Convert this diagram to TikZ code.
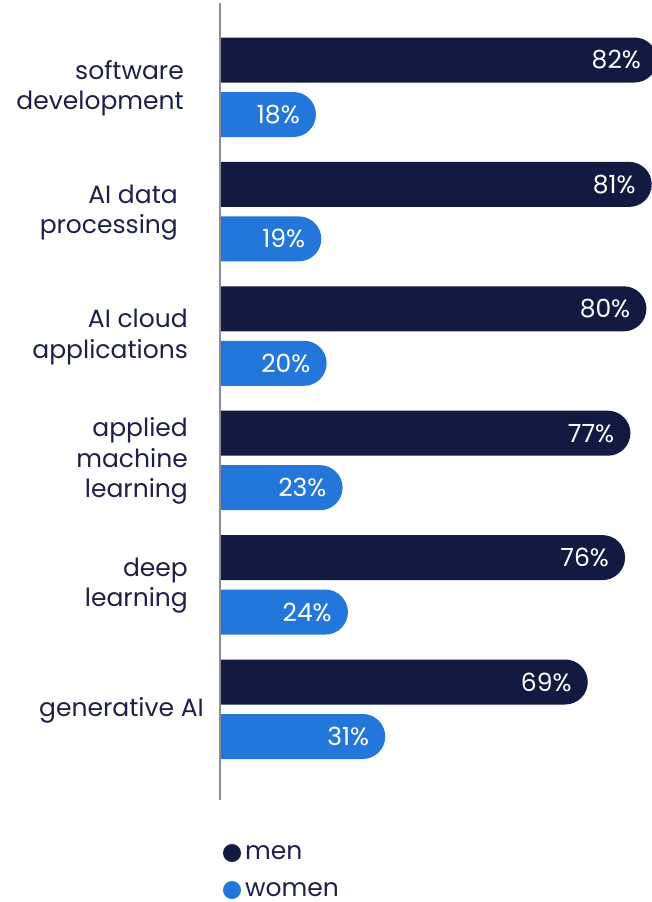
\documentclass[tikz,border=0pt]{standalone}
\usepackage{fontspec}
\setmainfont{Poppins}
\usetikzlibrary{shapes.misc}
\definecolor{mencolor}{HTML}{131A42}
\definecolor{womencolor}{HTML}{2477DA}
\definecolor{axiscolor}{HTML}{8C8D98}
\definecolor{labelcolor}{HTML}{1C2147}
\begin{document}
\begin{tikzpicture}
[x=1pt, y=-1pt,
  bardecorate/.style={shape=rounded rectangle, rounded rectangle west arc=none,
    inner sep=0pt, outer sep=0pt, minimum height=45pt, anchor=west},
  mendecorate/.style={bardecorate, fill=mencolor},
  womendecorate/.style={bardecorate, fill=womencolor},
  valuedecorate/.style={anchor=east, text=white, inner sep=0pt,
    font=\fontsize{25}{30}\selectfont},
  labeldecorate/.style={anchor=east, align=right, text=labelcolor, inner sep=0pt,
    font=\fontsize{25}{30.5}\selectfont},
  keydecorate/.style={shape=circle, inner sep=0pt, minimum size=18pt},
  axisdecorate/.style={-, draw=axiscolor, line width=2pt}]
\useasboundingbox (0,0) rectangle (651,902);
%% bars, values and labels
\foreach \idx/\name/\lx/\m/\w in {1/{software\\development}/184/82/18,
    2/{AI data\\processing}/178/81/19, 3/{AI cloud\\applications}/188/80/20,
    4/{applied\\machine\\learning}/188/77/23, 5/{deep\\learning}/188/76/24,
    6/{generative AI}/204/69/31} {
  \pgfmathsetmacro\yc{60+124.4*(\idx-1)}
  \node (men\idx) at (220,\yc) [mendecorate, minimum width=5.33pt*\m] {};
  \node (women\idx) at (220,\yc+54.5) [womendecorate, minimum width=5.33pt*\w] {};
  \node (menval\idx) at ([xshift=-16pt]men\idx.east) [valuedecorate] {\m\%};
  \node (womenval\idx) at ([xshift=-16pt]women\idx.east) [valuedecorate] {\w\%};
  \node (area\idx) at (\lx,\yc+28) [labeldecorate] {\name};
}
%% vertical axis
\coordinate (axistop) at (220,3);
\coordinate (axisbottom) at (220,800);
\draw[axisdecorate] (axistop) -- (axisbottom);
%% legend
\node (menkey) at (232,853) [keydecorate, fill=mencolor] {};
\node (womenkey) at (232,890) [keydecorate, fill=womencolor] {};
\node (mentext) at (245,853) [anchor=west, inner sep=0pt, text=labelcolor,
  font=\fontsize{25}{30}\selectfont] {men};
\node (womentext) at (245,890) [anchor=west, inner sep=0pt, text=labelcolor,
  font=\fontsize{25}{30}\selectfont] {women};
\end{tikzpicture}
\end{document}
